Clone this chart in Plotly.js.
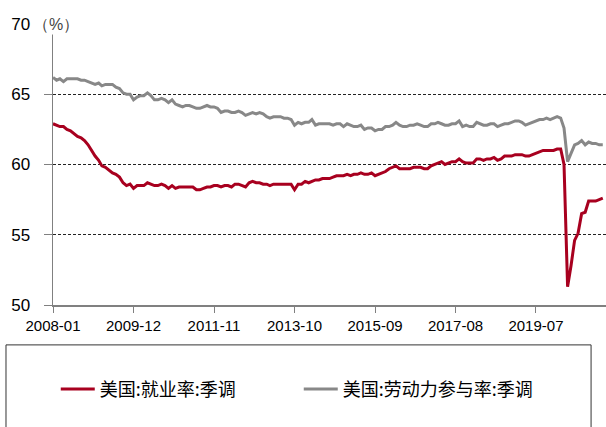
<!DOCTYPE html>
<html><head><meta charset="utf-8">
<script src="https://cdn.plot.ly/plotly-3.0.1.min.js"></script>
<style>html,body{margin:0;padding:0;background:#fff}#c{width:606px;height:427px}</style>
</head><body><div id="c"></div>
<script>
const startYear = 2008;
const empRate = [
 62.9,62.8,62.7,62.7,62.5,62.4,62.2,62.0,61.9,61.7,61.4,61.0,
 60.6,60.3,59.9,59.8,59.6,59.4,59.3,59.1,58.7,58.5,58.6,58.3,
 58.5,58.5,58.5,58.7,58.6,58.5,58.5,58.6,58.5,58.3,58.5,58.3,
 58.4,58.4,58.4,58.4,58.4,58.2,58.2,58.3,58.4,58.4,58.5,58.5,
 58.4,58.5,58.5,58.4,58.6,58.6,58.5,58.4,58.7,58.8,58.7,58.7,
 58.6,58.6,58.5,58.6,58.6,58.6,58.6,58.6,58.6,58.2,58.6,58.6,
 58.8,58.7,58.8,58.9,58.9,59.0,59.0,59.0,59.1,59.2,59.2,59.2,
 59.3,59.2,59.3,59.3,59.4,59.3,59.3,59.4,59.2,59.3,59.4,59.5,
 59.7,59.8,59.9,59.7,59.7,59.7,59.7,59.8,59.8,59.8,59.7,59.7,
 59.9,60.0,60.1,60.2,60.0,60.1,60.2,60.2,60.4,60.2,60.1,60.1,
 60.1,60.4,60.4,60.3,60.4,60.4,60.5,60.3,60.4,60.6,60.6,60.6,
 60.7,60.7,60.7,60.6,60.6,60.7,60.8,60.9,61.0,61.0,61.0,61.0,
 61.1,61.1,60.0,51.3,52.8,54.6,55.1,56.5,56.6,57.4,57.4,57.4,
 57.5,57.6
];
const lfpRate = [
 66.2,66.0,66.1,65.9,66.1,66.1,66.1,66.1,66.0,66.0,65.9,65.8,
 65.7,65.8,65.6,65.7,65.7,65.7,65.5,65.4,65.1,65.0,65.0,64.6,
 64.8,64.9,64.9,65.1,64.9,64.6,64.6,64.7,64.6,64.4,64.6,64.3,
 64.2,64.1,64.2,64.2,64.1,64.0,64.0,64.1,64.2,64.1,64.1,64.0,
 63.7,63.8,63.8,63.7,63.7,63.8,63.7,63.5,63.6,63.7,63.6,63.7,
 63.6,63.4,63.3,63.4,63.4,63.4,63.3,63.3,63.2,62.8,63.0,62.9,
 63.0,63.0,63.2,62.8,62.9,62.9,62.9,62.9,62.8,62.9,62.9,62.7,
 62.9,62.8,62.7,62.7,62.8,62.5,62.6,62.6,62.4,62.5,62.5,62.7,
 62.7,62.8,63.0,62.8,62.7,62.7,62.8,62.8,62.9,62.8,62.7,62.7,
 62.9,62.9,63.0,62.9,62.8,62.8,62.9,62.9,63.1,62.7,62.8,62.7,
 62.7,63.0,62.9,62.8,62.8,62.9,62.9,62.7,62.8,62.9,62.9,63.0,
 63.1,63.1,63.0,62.8,62.9,63.0,63.1,63.2,63.2,63.3,63.2,63.3,
 63.4,63.3,62.6,60.2,60.8,61.4,61.5,61.7,61.4,61.6,61.5,61.5,
 61.4,61.4
];
const tickLabels = ['2008-01','2009-12','2011-11','2013-10','2015-09','2017-08','2019-07'];
const seriesNames = ['美国:就业率:季调','美国:劳动力参与率:季调'];

const months = empRate.map((_, i) => {
  const y = startYear + Math.floor(i / 12), m = i % 12 + 1;
  return y + '-' + String(m).padStart(2, '0') + '-01';
});
const tickVals = tickLabels.map(t => t + '-01');

const data = [
  {x: months, y: empRate, name: seriesNames[0], type: 'scatter', mode: 'lines',
   line: {color: '#A8001F', width: 3}},
  {x: months, y: lfpRate, name: seriesNames[1], type: 'scatter', mode: 'lines',
   line: {color: '#888888', width: 3}}
];

const layout = {
  width: 606, height: 427,
  margin: {l: 53, r: 0, t: 24, b: 122},
  paper_bgcolor: '#fff', plot_bgcolor: '#fff',
  font: {family: 'Liberation Sans, Arial, sans-serif', color: '#000'},
  showlegend: true,
  legend: {orientation: 'h', x: 0.005, y: -0.3, xanchor: 'left', yanchor: 'middle',
    font: {family: 'Noto Sans CJK SC, sans-serif', size: 18, color: '#000'},
    itemwidth: 34,
    entrywidth: 194, entrywidthmode: 'pixels', bgcolor: 'rgba(0,0,0,0)', borderwidth: 0},
  xaxis: {type: 'date', range: ['2008-01-01', '2021-03-01'],
    tickmode: 'array', tickvals: tickVals, ticktext: tickLabels,
    showgrid: false, zeroline: false, showline: true, linecolor: '#808080', linewidth: 1.5,
    ticks: 'outside', ticklen: 6, tickcolor: '#808080', tickwidth: 1,
    tickfont: {size: 15, color: '#000'}},
  yaxis: {range: [50, 70], tickmode: 'array', tickvals: [50,55,60,65,70],
    showgrid: true, gridcolor: '#222', gridwidth: 1, griddash: '3px,2px',
    zeroline: false, showline: true, linecolor: '#808080', linewidth: 1.5,
    ticks: 'outside', ticklen: 8, tickcolor: '#808080', tickwidth: 1,
    ticklabelstandoff: 10,
    tickfont: {size: 17, color: '#000'}},
  shapes: [{type: 'rect', xref: 'paper', yref: 'paper',
    x0: -0.085, x1: 0.973, y0: -0.142, y1: -0.46,
    line: {color: '#333', width: 1}, fillcolor: 'rgba(0,0,0,0)'}],
  annotations: [{text: '（%）', xref: 'paper', yref: 'paper', x: -0.04, y: 1,
    xanchor: 'left', yanchor: 'middle', showarrow: false, bgcolor: '#fff',
    font: {size: 16, color: '#444'}}]
};

Plotly.newPlot('c', data, layout, {displayModeBar: false, staticPlot: true});
</script></body></html>
